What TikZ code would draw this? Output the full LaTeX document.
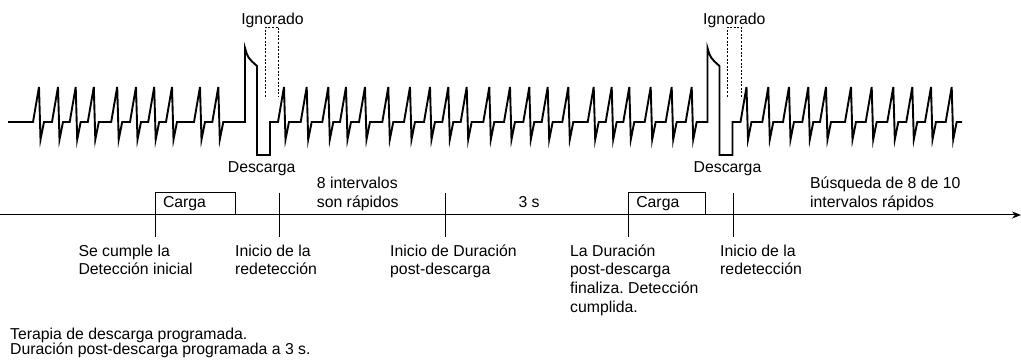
\documentclass[tikz,border=0pt]{standalone}
\usepackage{fontspec}
\setmainfont{Liberation Sans}
\usetikzlibrary{arrows.meta}
\frenchspacing

\tikzset{
  ecg/.style={line width=1.9pt},
  eje/.style={line width=1pt},
  ignorado/.style={line width=1pt,dash pattern=on 2pt off 1.6pt},
  etiq/.style={inner sep=0pt,anchor=base west,align=left,
    font=\fontsize{15.8}{18.7}\selectfont},
  rotulo/.style={inner sep=0pt,anchor=base,font=\fontsize{15.8}{18.7}\selectfont},
  cajacarga/.style={draw,line width=1pt,anchor=south west,align=left,
    inner xsep=7.5pt,inner ysep=0pt,minimum height=21.7pt,
    font=\fontsize{15.8}{18.7}\selectfont}
}

\begin{document}
\begin{tikzpicture}[x=1pt,y=-1pt]
	\useasboundingbox (0,0) rectangle (1021,363);
	% ECG con dos descargas
	\draw[ecg] (8,122)
	  foreach \p in {39,58,75.7,93.8,117.2,136,154.2,172,200,218.3}
	    { -- ({\p-6},122) -- (\p,87) -- ({\p+1.5},139.5) -- ({\p+5},122) }
	  -- (245,122) -- (245,48) .. controls (248,58) .. (257,66)
	  -- (257,155) -- (270,155) -- (270,122)
	  foreach \p in {284,306.7,328.3,346,365,388.3,410,430,448.3,466.7,489.3,
	                 510,529.3,547.7,568.3,593.7,611.7,629.3,650.7,671.7,691.7}
	    { -- ({\p-6},122) -- (\p,87) -- ({\p+1.5},139.5) -- ({\p+5},122) }
	  -- (707.5,122) -- (707.5,48) .. controls (710.5,58) .. (719.5,66)
	  -- (719.5,155) -- (732.5,155) -- (732.5,122)
	  foreach \p in {746.5,768.3,789,808.3,826,851,871.7,893.3,912.3,931,951.7}
	    { -- ({\p-6},122) -- (\p,87) -- ({\p+1.5},139.5) -- ({\p+5},122) }
	  -- (962,122);
	\draw[ignorado] (265.7,96.7) -- (265.7,27.3) -- (278.7,27.3) -- (278.7,96.7);
	\draw[ignorado] (727.5,96.7) -- (727.5,27.3) -- (741.5,27.3) -- (741.5,96.7);
	\node[rotulo] (ign1) at (272.5,24.6) {Ignorado};
	\node[rotulo] (ign2) at (734.3,24.6) {Ignorado};
	\node[rotulo] (desc1) at (261.7,173) {Descarga};
	\node[rotulo] (desc2) at (727.5,173) {Descarga};
	% linea de tiempo
	\coordinate (ini) at (0,215);
	\coordinate (fin) at (1021,215);
	\draw[eje,-{Stealth[length=9pt,width=7pt]}] (ini) -- (fin);
	\foreach \n/\x in {t1/155,t2/279.3,t3/445,t4/628.3,t5/733.3} {
	  \coordinate (\n a) at (\x,193.3);
	  \coordinate (\n b) at (\x,236.7);
	  \draw[eje] (\n a) -- (\n b);
	}
	\node[cajacarga,text width=65pt] (carga1) at (155,215) {Carga};
	\node[cajacarga,text width=61.7pt] (carga2) at (628.3,215) {Carga};
	% etiquetas (base = ultima linea)
	\node[etiq] (rap) at (316.7,207.2) {8 intervalos\\son rápidos};
	\node[etiq] (tres) at (518.3,208) {3 s};
	\node[etiq] (busq) at (810,207.2) {Búsqueda de 8 de 10\\intervalos rápidos};
	\node[etiq] (detini) at (78.3,275) {Se cumple la\\Detección inicial};
	\node[etiq] (redet1) at (235,275) {Inicio de la\\redetección};
	\node[etiq] (durini) at (390,275) {Inicio de Duración\\post-descarga};
	\node[etiq] (durfin) at (570,312.4) {La Duración\\post-descarga\\finaliza. Detección\\cumplida.};
	\node[etiq] (redet2) at (720,275) {Inicio de la\\redetección};
	\node[etiq,font=\fontsize{15.8}{15}\selectfont] (nota) at (10,354.7)
	  {Terapia de descarga programada.\\Duración post-descarga programada a 3 s.};
\end{tikzpicture}
\end{document}
